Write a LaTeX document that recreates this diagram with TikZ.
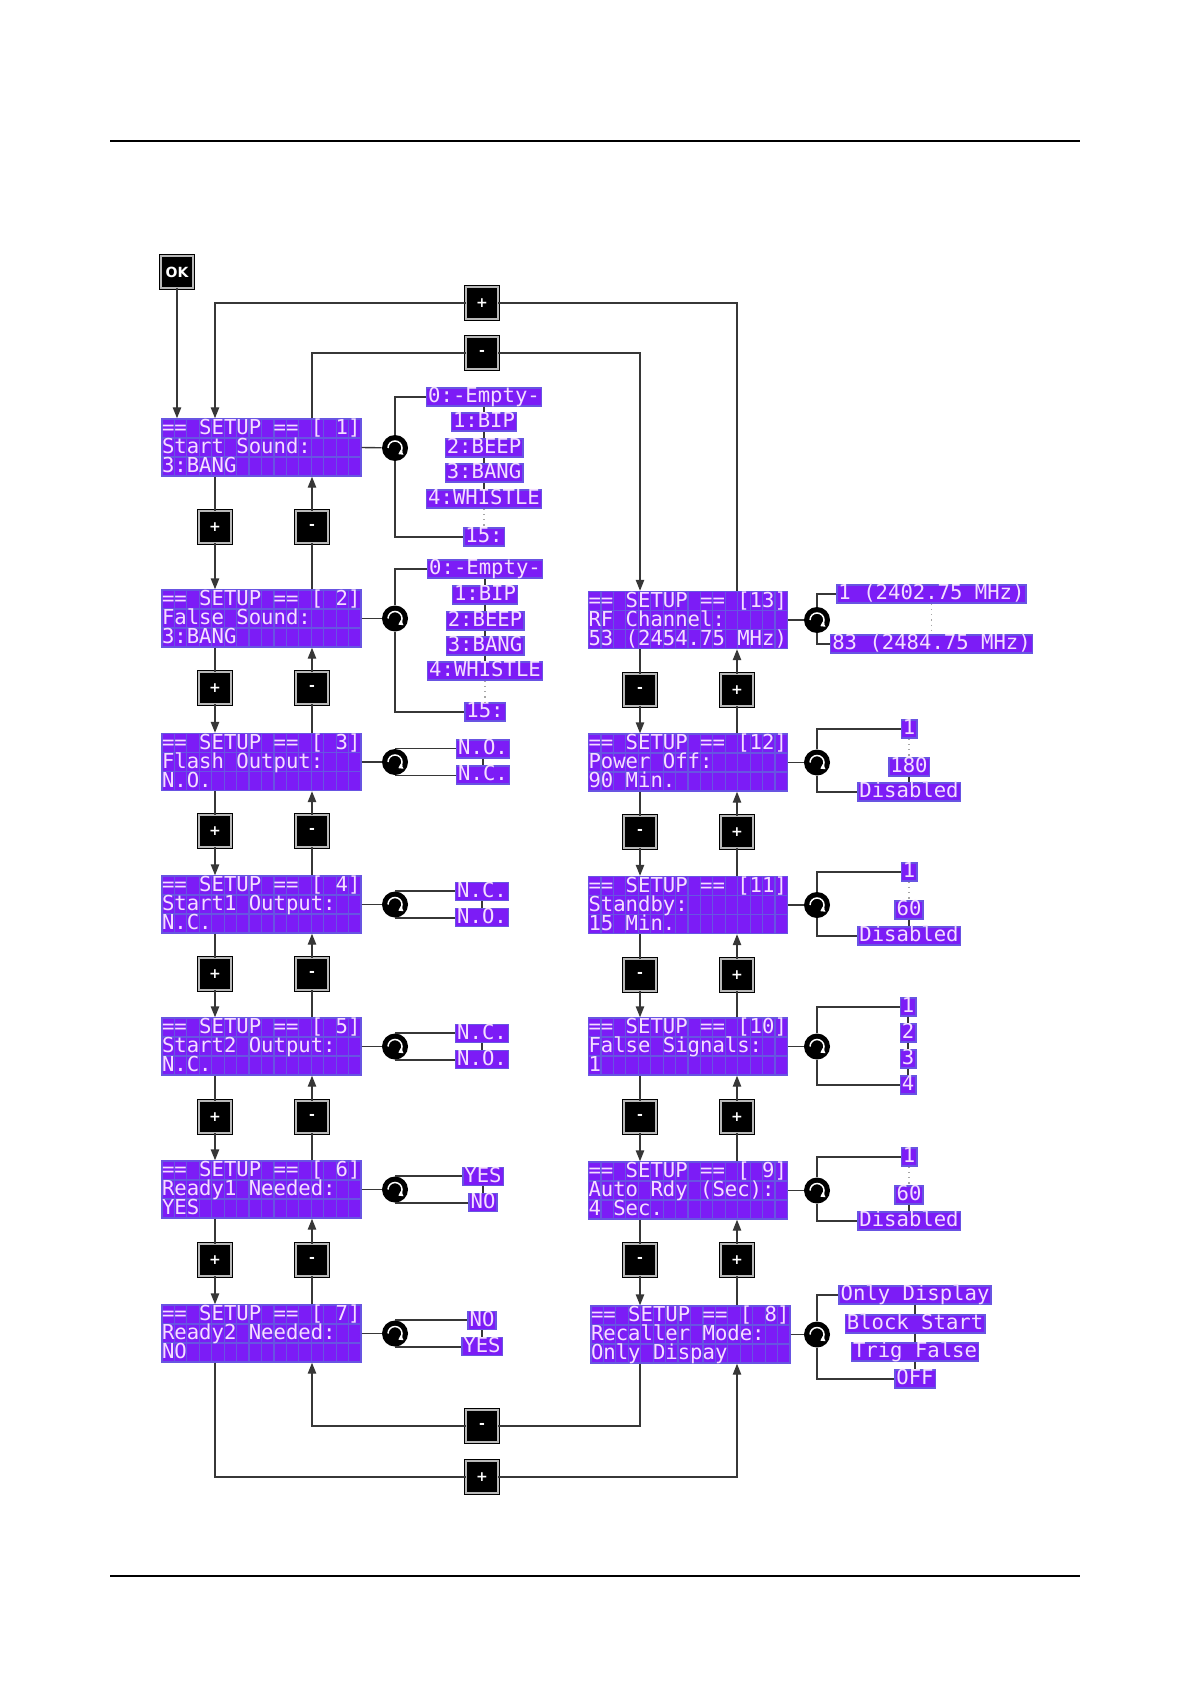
\documentclass[tikz,border=0pt]{standalone}
\usepackage{fontspec}
\setmainfont{DejaVu Sans}
\newfontfamily\lcdfont{DejaVu Sans Mono}
\usepackage{xcolor}
\usetikzlibrary{arrows.meta,positioning}

\definecolor{lcdfill}{RGB}{124,28,246}
\definecolor{lcdcell}{RGB}{104,84,226}
\definecolor{lcdtext}{RGB}{244,222,255}
\definecolor{wirecol}{RGB}{55,55,55}

\newcommand{\lcdstrut}{\rule[-1.8pt]{0pt}{9.5pt}}
\newcommand{\lcdrows}[3]{\parbox[c][28.5pt][t]{99.5pt}{\lineskiplimit=-\maxdimen\baselineskip=9.5pt
  \lcdstrut#1\\\lcdstrut#2\\\lcdstrut#3}}

\begin{document}
\begin{tikzpicture}[
  x=0.5pt, y=-0.5pt,
  lcd/.style={draw=lcdcell, line width=0.7pt, fill=lcdfill, inner sep=0pt, text=lcdtext,
    font=\lcdfont\fontsize{10.3pt}{9.5pt}\selectfont, minimum width=99.5pt, minimum height=28.5pt,
    path picture={
      \foreach \c in {1,...,15}
        \draw[lcdcell, line width=0.6pt] ([xshift=\c*6.21875pt]path picture bounding box.south west)
          -- ([xshift=\c*6.21875pt]path picture bounding box.north west);
      \foreach \r in {1,2}
        \draw[lcdcell, line width=0.6pt] ([yshift=\r*9.5pt]path picture bounding box.south west)
          -- ([yshift=\r*9.5pt]path picture bounding box.south east);
    }},
  opt/.style={draw=lcdcell, line width=0.7pt, fill=lcdfill, text=lcdtext,
    font=\lcdfont\fontsize{10.3pt}{10pt}\selectfont, inner xsep=0.8pt, inner ysep=0pt,
    text height=7.3pt, text depth=1.7pt},
  btn/.style={fill=black, draw=black, double=gray!55, double distance=1.1pt, line width=0.35pt,
    minimum size=16pt, inner sep=0pt, text=white, font=\bfseries\fontsize{7pt}{7pt}\selectfont},
  knob/.style={circle, fill=black, minimum size=13pt, inner sep=0pt,
    path picture={
      \draw[white, line width=0.75pt, -{Triangle[length=2.2pt,width=2.8pt]}]
        ([shift={(180:3.5pt)}]path picture bounding box.center)
        arc[start angle=180, end angle=-62, radius=3.5pt];
    }},
  wire/.style={draw=wirecol, line width=0.7pt},
  arrow/.style={wire, -{Triangle[length=5.5pt,width=4.2pt]}},
  dots/.style={draw=gray!70, line width=0.6pt, dotted}
]
\useasboundingbox (0,0) rectangle (1190,1684);
\draw[line width=0.6pt] (110,141) -- (1080,141);
\draw[line width=0.6pt] (110,1576) -- (1080,1576);

% setup screens, left column
\node[lcd] (s1) at (261.5,447.5) {\lcdrows{== SETUP == [ 1]}{Start Sound:}{3:BANG}};
\node[lcd] (s2) at (261.5,618.5) {\lcdrows{== SETUP == [ 2]}{False Sound:}{3:BANG}};
\node[lcd] (s3) at (261.5,762) {\lcdrows{== SETUP == [ 3]}{Flash Output:}{N.O.}};
\node[lcd] (s4) at (261.5,904.5) {\lcdrows{== SETUP == [ 4]}{Start1 Output:}{N.C.}};
\node[lcd] (s5) at (261.5,1046.5) {\lcdrows{== SETUP == [ 5]}{Start2 Output:}{N.C.}};
\node[lcd] (s6) at (261.5,1189.5) {\lcdrows{== SETUP == [ 6]}{Ready1 Needed:}{YES}};
\node[lcd] (s7) at (261.5,1333.5) {\lcdrows{== SETUP == [ 7]}{Ready2 Needed:}{NO}};

% setup screens, right column
\node[lcd] (s13) at (688,620) {\lcdrows{== SETUP == [13]}{RF Channel:}{53 (2454.75 MHz)}};
\node[lcd] (s12) at (688,762.5) {\lcdrows{== SETUP == [12]}{Power Off:}{90 Min.}};
\node[lcd] (s11) at (688,905) {\lcdrows{== SETUP == [11]}{Standby:}{15 Min.}};
\node[lcd] (s10) at (688,1046.5) {\lcdrows{== SETUP == [10]}{False Signals:}{1}};
\node[lcd] (s9) at (688,1190.5) {\lcdrows{== SETUP == [ 9]}{Auto Rdy (Sec):}{4 Sec.}};
\node[lcd] (s8) at (690.5,1334.5) {\lcdrows{== SETUP == [ 8]}{Recaller Mode:}{Only Dispay}};

% keys
\node[btn] (ok) at (177,272) {OK};
\node[btn] (tplus) at (482,303) {+};
\node[btn] (tminus) at (482,353) {-};
\node[btn] (bminus) at (482,1426) {-};
\node[btn] (bplus) at (482,1477) {+};

\node[btn] (pa1) at (215,527) {+};
\node[btn] (pa2) at (215,688) {+};
\node[btn] (pa3) at (215,831) {+};
\node[btn] (pa4) at (215,974) {+};
\node[btn] (pa5) at (215,1117) {+};
\node[btn] (pa6) at (215,1260) {+};
\node[btn] (ma1) at (312,527) {-};
\node[btn] (ma2) at (312,688) {-};
\node[btn] (ma3) at (312,831) {-};
\node[btn] (ma4) at (312,974) {-};
\node[btn] (ma5) at (312,1117) {-};
\node[btn] (ma6) at (312,1260) {-};

\node[btn] (mb1) at (640,690) {-};
\node[btn] (mb2) at (640,832) {-};
\node[btn] (mb3) at (640,975) {-};
\node[btn] (mb4) at (640,1117) {-};
\node[btn] (mb5) at (640,1260) {-};
\node[btn] (pb1) at (737,690) {+};
\node[btn] (pb2) at (737,832) {+};
\node[btn] (pb3) at (737,975) {+};
\node[btn] (pb4) at (737,1117) {+};
\node[btn] (pb5) at (737,1260) {+};

% knobs
\node[knob] (k1) at (395,448) {};
\node[knob] (k2) at (395,618.5) {};
\node[knob] (k3) at (395,762) {};
\node[knob] (k4) at (395,904.5) {};
\node[knob] (k5) at (395,1046.5) {};
\node[knob] (k6) at (395,1189.5) {};
\node[knob] (k7) at (395,1333.5) {};
\node[knob] (k13) at (817,620) {};
\node[knob] (k12) at (817,762.5) {};
\node[knob] (k11) at (817,905) {};
\node[knob] (k10) at (817,1046.5) {};
\node[knob] (k9) at (817,1190.5) {};
\node[knob] (k8) at (817,1334.5) {};

% value lists
\node[opt] (o1a) at (484,397) {0:-Empty-};
\node[opt] (o1b) at (484,422) {1:BIP};
\node[opt] (o1c) at (484,448) {2:BEEP};
\node[opt] (o1d) at (484,473) {3:BANG};
\node[opt] (o1e) at (484,499) {4:WHISTLE};
\node[opt] (o1f) at (484,537) {15:};

\node[opt] (o2a) at (485,569) {0:-Empty-};
\node[opt] (o2b) at (485,595) {1:BIP};
\node[opt] (o2c) at (485,621) {2:BEEP};
\node[opt] (o2d) at (485,646) {3:BANG};
\node[opt] (o2e) at (485,671) {4:WHISTLE};
\node[opt] (o2f) at (485,712) {15:};

\node[opt] (o3a) at (483,749) {N.O.};
\node[opt] (o3b) at (483,775) {N.C.};
\node[opt] (o4a) at (482,891.5) {N.C.};
\node[opt] (o4b) at (482,917.5) {N.O.};
\node[opt] (o5a) at (482,1033.5) {N.C.};
\node[opt] (o5b) at (482,1059.5) {N.O.};
\node[opt] (o6a) at (483,1176.5) {YES};
\node[opt] (o6b) at (483,1202.5) {NO};
\node[opt] (o7a) at (482,1320.5) {NO};
\node[opt] (o7b) at (482,1346.5) {YES};

\node[opt] (o13a) at (931.5,594) {1 (2402.75 MHz)};
\node[opt] (o13b) at (931.5,644) {83 (2484.75 MHz)};
\node[opt] (o12a) at (909,729) {1};
\node[opt] (o12b) at (909,767) {180};
\node[opt] (o12c) at (909,792) {Disabled};
\node[opt] (o11a) at (909,872) {1};
\node[opt] (o11b) at (909,910) {60};
\node[opt] (o11c) at (909,936) {Disabled};
\node[opt] (o10a) at (908,1007) {1};
\node[opt] (o10b) at (908,1033) {2};
\node[opt] (o10c) at (908,1059) {3};
\node[opt] (o10d) at (908,1085) {4};
\node[opt] (o9a) at (909,1157) {1};
\node[opt] (o9b) at (909,1195) {60};
\node[opt] (o9c) at (909,1221) {Disabled};
\node[opt] (o8a) at (915,1295) {Only Display};
\node[opt] (o8b) at (915,1324) {Block Start};
\node[opt] (o8c) at (915,1352) {Trig False};
\node[opt] (o8d) at (915,1379) {OFF};

% entry and wrap-around
\draw[arrow] (ok) -- (s1.north -| ok);
\draw[wire] (s13.north -| pb1) |- (tplus);
\draw[arrow] (tplus) -| (s1.north -| pa1);
\draw[wire] (s1.north -| ma1) |- (tminus);
\draw[arrow] (tminus) -| (s13.north -| mb1);
\draw[wire] (s8.south -| mb5) |- (bminus);
\draw[arrow] (bminus) -| (s7.south -| ma6);
\draw[wire] (s7.south -| pa6) |- (bplus);
\draw[arrow] (bplus) -| (s8.south -| pb5);

% left column steps
\draw[wire] (s1.south -| pa1) -- (pa1);
\draw[arrow] (pa1) -- (s2.north -| pa1);
\draw[wire] (s2.north -| ma1) -- (ma1);
\draw[arrow] (ma1) -- (s1.south -| ma1);
\draw[wire] (s2.south -| pa2) -- (pa2);
\draw[arrow] (pa2) -- (s3.north -| pa2);
\draw[wire] (s3.north -| ma2) -- (ma2);
\draw[arrow] (ma2) -- (s2.south -| ma2);
\draw[wire] (s3.south -| pa3) -- (pa3);
\draw[arrow] (pa3) -- (s4.north -| pa3);
\draw[wire] (s4.north -| ma3) -- (ma3);
\draw[arrow] (ma3) -- (s3.south -| ma3);
\draw[wire] (s4.south -| pa4) -- (pa4);
\draw[arrow] (pa4) -- (s5.north -| pa4);
\draw[wire] (s5.north -| ma4) -- (ma4);
\draw[arrow] (ma4) -- (s4.south -| ma4);
\draw[wire] (s5.south -| pa5) -- (pa5);
\draw[arrow] (pa5) -- (s6.north -| pa5);
\draw[wire] (s6.north -| ma5) -- (ma5);
\draw[arrow] (ma5) -- (s5.south -| ma5);
\draw[wire] (s6.south -| pa6) -- (pa6);
\draw[arrow] (pa6) -- (s7.north -| pa6);
\draw[wire] (s7.north -| ma6) -- (ma6);
\draw[arrow] (ma6) -- (s6.south -| ma6);

% right column steps
\draw[wire] (s13.south -| mb1) -- (mb1);
\draw[arrow] (mb1) -- (s12.north -| mb1);
\draw[wire] (s12.north -| pb1) -- (pb1);
\draw[arrow] (pb1) -- (s13.south -| pb1);
\draw[wire] (s12.south -| mb2) -- (mb2);
\draw[arrow] (mb2) -- (s11.north -| mb2);
\draw[wire] (s11.north -| pb2) -- (pb2);
\draw[arrow] (pb2) -- (s12.south -| pb2);
\draw[wire] (s11.south -| mb3) -- (mb3);
\draw[arrow] (mb3) -- (s10.north -| mb3);
\draw[wire] (s10.north -| pb3) -- (pb3);
\draw[arrow] (pb3) -- (s11.south -| pb3);
\draw[wire] (s10.south -| mb4) -- (mb4);
\draw[arrow] (mb4) -- (s9.north -| mb4);
\draw[wire] (s9.north -| pb4) -- (pb4);
\draw[arrow] (pb4) -- (s10.south -| pb4);
\draw[wire] (s9.south -| mb5) -- (mb5);
\draw[arrow] (mb5) -- (s8.north -| mb5);
\draw[wire] (s8.north -| pb5) -- (pb5);
\draw[arrow] (pb5) -- (s9.south -| pb5);

% knobs to screens
\draw[wire] (s1.east) -- (k1);
\draw[wire] (s2.east) -- (k2);
\draw[wire] (s3.east) -- (k3);
\draw[wire] (s4.east) -- (k4);
\draw[wire] (s5.east) -- (k5);
\draw[wire] (s6.east) -- (k6);
\draw[wire] (s7.east) -- (k7);
\draw[wire] (s13.east) -- (k13);
\draw[wire] (s12.east) -- (k12);
\draw[wire] (s11.east) -- (k11);
\draw[wire] (s10.east) -- (k10);
\draw[wire] (s9.east) -- (k9);
\draw[wire] (s8.east) -- (k8);

% value brackets
\draw[wire] (k1) |- (o1a);
\draw[wire] (k1) |- (o1f);
\draw[wire] (o1a) -- (o1b) -- (o1c) -- (o1d) -- (o1e);
\draw[dots] (o1e) -- (o1f);
\draw[wire] (k2) |- (o2a);
\draw[wire] (k2) |- (o2f);
\draw[wire] (o2a) -- (o2b) -- (o2c) -- (o2d) -- (o2e);
\draw[dots] (o2e) -- (o2f);

\draw[wire] (k3.north) -- (k3.north -| o3a.west);
\draw[wire] (k3.south) -- (k3.south -| o3b.west);
\draw[wire] (o3a) -- (o3b);
\draw[wire] (k4.north) -- (k4.north -| o4a.west);
\draw[wire] (k4.south) -- (k4.south -| o4b.west);
\draw[wire] (o4a) -- (o4b);
\draw[wire] (k5.north) -- (k5.north -| o5a.west);
\draw[wire] (k5.south) -- (k5.south -| o5b.west);
\draw[wire] (o5a) -- (o5b);
\draw[wire] (k6.north) -- (k6.north -| o6a.west);
\draw[wire] (k6.south) -- (k6.south -| o6b.west);
\draw[wire] (o6a) -- (o6b);
\draw[wire] (k7.north) -- (k7.north -| o7a.west);
\draw[wire] (k7.south) -- (k7.south -| o7b.west);
\draw[wire] (o7a) -- (o7b);

\draw[wire] (k13) |- (o13a);
\draw[wire] (k13) |- (o13b);
\draw[dots] (o13a) -- (o13b);
\draw[wire] (k12) |- (o12a);
\draw[wire] (k12) |- (o12c);
\draw[dots] (o12a) -- (o12b);
\draw[wire] (o12b) -- (o12c);
\draw[wire] (k11) |- (o11a);
\draw[wire] (k11) |- (o11c);
\draw[dots] (o11a) -- (o11b);
\draw[wire] (o11b) -- (o11c);
\draw[wire] (k10) |- (o10a);
\draw[wire] (k10) |- (o10d);
\draw[wire] (o10a) -- (o10b) -- (o10c) -- (o10d);
\draw[wire] (k9) |- (o9a);
\draw[wire] (k9) |- (o9c);
\draw[dots] (o9a) -- (o9b);
\draw[wire] (o9b) -- (o9c);
\draw[wire] (k8) |- (o8a);
\draw[wire] (k8) |- (o8d);
\draw[wire] (o8a) -- (o8b) -- (o8c) -- (o8d);
\end{tikzpicture}
\end{document}
